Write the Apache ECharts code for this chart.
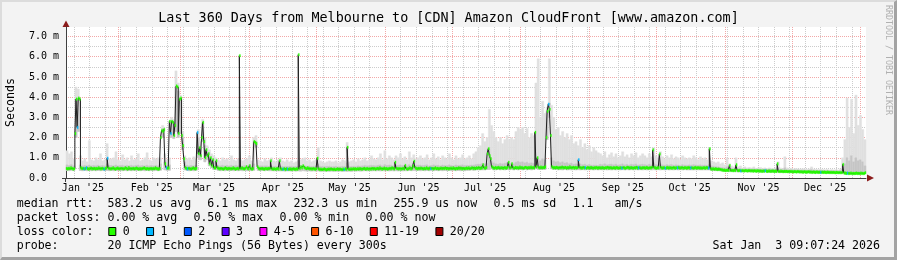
<!DOCTYPE html>
<html><head><meta charset="utf-8">
<script src="https://cdn.jsdelivr.net/npm/echarts@6/dist/echarts.min.js"></script>
<style>
html,body{margin:0;padding:0;background:#f3f3f3;}
#c{position:absolute;left:0;top:0;width:897px;height:260px;}
#frame{position:absolute;left:0;top:0;width:897px;height:260px;box-sizing:border-box;pointer-events:none;
 border-top:2px solid #dcdcdc;border-left:2px solid #dcdcdc;border-right:3px solid #a3a3a3;border-bottom:3px solid #a3a3a3;}
</style></head><body><div id="c"></div><div id="frame"></div>
<script>
// ---- time frame (days since 2025-01-01 00:00 local) ----
const START = 7.38;          // left edge: 2025-01-08 09:07
const END = 367.38;          // right edge: 2026-01-03 09:07
const YMAX = 7.47;           // ms
const STEP = 0.5;            // 12 h per median step

// ---- axis ticks / labels ----
const monthStarts = [31,59,90,120,151,181,212,243,273,304,334,365];
const monthLabelPos = [15,46,74,105,135,166,196,227,258,288,319,349];
const monthLabels = ["Jan '25","Feb '25","Mar '25","Apr '25","May '25","Jun '25","Jul '25","Aug '25","Sep '25","Oct '25","Nov '25","Dec '25"];
const weekStarts = [11,18,25,32,39,46,53,60,67,74,81,88,95,102,109,116,123,130,137,144,151,158,165,172,179,186,193,200,207,214,221,228,235,242,249,256,263,270,277,284,291,298,305,312,319,326,333,340,347,354,361];
const yTicks = [0,1,2,3,4,5,6,7];
const yTickLabels = ['0.0  ','1.0 m','2.0 m','3.0 m','4.0 m','5.0 m','6.0 m','7.0 m'];
const yMajorGrid = [1,2,3,4,5,6,7];
const yMinorGrid = [0.5,1.5,2.5,3.5,4.5,5.5,6.5];

// ---- median rtt (ms), one value per 12 h step ----
const median = [
.47,.45,.48,.46,.5,.47,.44,.46,2.2,3.9,2.5,3.95,3.9,.5,.46,.48,.45,.47,.5,.46,
.44,.47,.49,.45,.46,.48,.45,.47,.46,.5,.47,.45,.48,.46,.44,.47,.5,.98,.48,.46,
.45,.47,.5,.46,.44,.47,.49,.46,.45,.48,.47,.45,.46,.5,.47,.44,.52,.47,.45,.46,
.48,.45,.47,.49,.46,.44,.47,.45,.46,.48,.5,.46,.45,.47,.44,.46,.48,.45,.47,.46,
.5,.47,.45,.44,.47,2.0,2.35,2.3,2.4,.7,.5,.48,.5,2.8,2.2,2.8,2.75,2.1,2.6,4.55,
4.5,2.2,3.9,3.95,2.1,1.6,.95,.5,.47,.45,.48,.46,.44,.47,.5,.46,.45,.48,2.25,1.2,
1.5,1.1,2.0,2.75,1.8,1.0,1.4,1.1,1.2,.7,1.0,.6,.9,.5,.5,.85,.5,.47,.45,.48,
.46,.44,.47,.5,.46,.45,.48,.47,.45,.46,.5,.47,.44,.46,.48,.45,6.05,.47,.5,.46,
.45,.48,.55,.47,.45,.6,.46,.44,.47,1.8,1.75,1.7,.55,.47,.45,.46,.48,.45,.44,.47,
.46,.45,.48,.47,.85,.45,.44,.46,.43,.45,.47,.44,.85,.45,.43,.44,.46,.42,.45,.44,
.43,.45,.44,.42,.46,.44,.43,.45,.44,6.1,.47,.55,.5,.6,.52,.48,.46,.5,.47,.45,
.46,.44,.47,.45,.43,.46,.98,.45,.42,.44,.41,.43,.45,.42,.4,.43,.44,.42,.45,.43,
.42,.44,.41,.43,.45,.42,.44,.43,.41,.44,.42,.45,.43,1.52,.44,.42,.45,.43,.46,.44,
.45,.43,.46,.44,.47,.45,.43,.46,.48,.44,.45,.47,.43,.46,.44,.48,.45,.47,.44,.46,
.48,.45,.5,.47,.44,.46,.49,.45,.47,.44,.46,.48,.45,.5,.47,.45,.78,.48,.46,.45,
.47,.44,.46,.48,.45,.62,.46,.44,.47,.5,.45,.47,.6,.83,.5,.47,.45,.48,.46,.49,
.47,.45,.48,.46,.5,.47,.45,.49,.46,.48,.45,.47,.5,.46,.48,.45,.47,.49,.46,.48,
.47,.5,.46,.48,.45,.47,.49,.46,.5,.47,.45,.48,.46,.5,.47,.49,.45,.48,.46,.47,
.49,.47,.5,.46,.48,.51,.47,.49,.46,.5,.48,.52,.47,.49,.5,.65,.5,.48,.52,1.2,
1.45,1.1,.95,.55,.5,.48,.52,.49,.5,.53,.48,.51,.5,.47,.52,.5,.49,.53,.78,.5,
.52,.7,.5,.48,.53,.5,.51,.49,.54,.5,.52,.48,.5,.53,.51,.49,.52,.5,.54,.5,
.52,.5,2.26,.55,1.0,.52,.5,.54,.5,.53,.51,.55,2.0,3.3,3.65,3.4,2.1,.55,.5,.52,
.5,.53,.51,.49,.52,.5,.54,.5,.51,.53,.49,.52,.5,.55,.51,.5,.53,.49,.52,.5,
.51,.9,.52,.5,.49,.53,.5,.51,.48,.52,.5,.49,.53,.5,.48,.51,.5,.52,.49,.5,
.51,.49,.52,.5,.48,.51,.5,.53,.49,.5,.52,.48,.51,.5,.49,.52,.5,.48,.51,.5,
.49,.52,.5,.48,.51,.53,.5,.49,.52,.5,.48,.51,.5,.53,.49,.5,.52,.48,.5,.51,
.5,.49,.52,.5,.48,.51,.5,.53,1.39,.52,.5,.48,.51,.5,1.19,.52,.49,.5,.51,.48,
.5,.52,.49,.51,.5,.48,.52,.5,.49,.51,.5,.53,.49,.5,.52,.48,.5,.51,.49,.5,
.52,.49,.5,.51,.48,.5,.52,.49,.5,.51,.49,.5,.48,.51,.5,.49,.52,.5,.49,1.44,
.45,.44,.46,.43,.45,.44,.42,.44,.43,.41,.4,.38,.39,.37,.38,.39,.37,.62,.37,.38,
.36,.38,.37,.65,.37,.36,.38,.35,.37,.36,.35,.37,.36,.35,.37,.36,.35,.36,.34,.36,
.35,.34,.36,.35,.34,.35,.33,.35,.34,.36,.34,.33,.35,.34,.33,.35,.34,.33,.34,.33,
.7,.33,.32,.34,.33,.31,.33,.32,.33,.31,.32,.33,.31,.32,.3,.32,.31,.3,.32,.31,
.3,.31,.3,.29,.31,.3,.29,.3,.31,.29,.3,.28,.3,.29,.28,.3,.29,.28,.29,.28,
.29,.28,.29,.28,.27,.29,.28,.27,.28,.27,.28,.27,.26,.28,.27,.26,.27,.26,.27,.67,
.25,.24,.23,.24,.22,.23,.24,.22,.23,.22,.23,.24,.22,.23,.22,.24,.23,.22,.23,.26
];
// steps whose median band shows 1/20 loss (blue)
const lossOneSteps = [10,16,18,34,37,90,94,109,118,195,199,250,328,434,461,467,500,515,539,550,562,578,607,629,679,703];

// ---- smoke (ms), one value per day: lowest ping, dense band top, highest ping ----
const smokeLo = [
.37,.36,.38,.36,2.0,2.3,.37,.36,.37,.36,.37,.36,.37,.36,.37,.36,.37,.36,.37,.36,
.37,.36,.37,.36,.37,.36,.37,.36,.37,.36,.37,.36,.37,.36,.37,.36,.37,.36,.37,.36,
.37,.36,.38,2.0,.4,.38,.38,2.0,1.95,2.3,2.0,2.2,1.4,.4,.37,.36,.37,.36,.37,1.0,
.9,1.8,.8,.9,.6,.5,.42,.42,.37,.36,.37,.36,.37,.36,.37,.36,.37,.36,.37,.36,
.37,.36,.37,.36,.38,1.5,.37,.36,.37,.36,.37,.36,.36,.35,.36,.35,.35,.35,.34,.35,
.35,.34,.35,.34,.35,.34,.36,.35,.34,.35,.34,.35,.34,.35,.33,.34,.33,.34,.33,.34,
.33,.34,.33,.34,.33,.34,.33,.34,.33,.35,.34,.35,.34,.35,.36,.35,.36,.35,.36,.35,
.36,.35,.36,.35,.36,.35,.36,.35,.36,.35,.36,.35,.36,.36,.37,.36,.37,.36,.37,.36,
.37,.36,.37,.36,.37,.36,.37,.36,.37,.36,.37,.36,.37,.36,.37,.36,.37,.36,.37,.36,
.38,.38,.4,.38,.4,.4,.4,.4,.4,.42,.42,.45,.4,.4,.42,.4,.42,.4,.42,.4,
.42,.4,.42,.4,.42,.4,.42,.4,.42,.4,.42,.45,.42,.42,.42,.42,1.9,3.0,.45,.42,
.42,.4,.41,.4,.42,.4,.41,.4,.41,.4,.41,.4,.41,.4,.41,.4,.41,.4,.41,.4,
.41,.4,.41,.4,.41,.4,.41,.4,.41,.4,.41,.4,.41,.4,.41,.4,.41,.4,.41,.4,
.41,.4,.41,.4,.41,.4,.41,.4,.41,.4,.41,.4,.41,.4,.41,.4,.41,.4,.41,.4,
.4,.4,.4,.4,.4,.4,.4,.4,.4,.4,.38,.37,.36,.36,.35,.34,.33,.33,.32,.32,
.31,.31,.3,.31,.3,.31,.3,.3,.31,.3,.3,.29,.3,.29,.3,.29,.29,.28,.29,.28,
.28,.27,.28,.27,.27,.26,.27,.26,.27,.26,.26,.25,.26,.25,.26,.25,.25,.24,.25,.24,
.24,.24,.23,.24,.23,.23,.22,.23,.22,.22,.2,.2,.19,.2,.2,.19,.2,.19,.2,.22
];
const smokeMid = [
.65,.62,.66,.6,3.9,3.9,.65,.6,.62,.6,.64,.6,.62,.6,.63,.6,.62,.6,.7,.62,
.62,.6,.64,.6,.62,.63,.6,.62,.6,.63,.6,.62,.64,.6,.62,.6,.63,.6,.62,.6,
.62,.6,.7,2.45,.8,.62,.65,2.8,2.7,4.5,4.3,3.9,2.0,.8,.62,.6,.62,.6,.62,2.0,
1.5,2.7,1.6,1.3,1.1,.9,.8,.75,.62,.6,.63,.6,.62,.6,.63,.6,.62,.6,.62,.6,
.62,.6,.65,.6,.7,1.8,.6,.6,.6,.6,.6,.58,.6,.58,.58,.57,.6,.57,.56,.57,
.57,.58,.56,.57,.58,.6,.62,.6,.58,.6,.57,.58,.6,.7,.58,.57,.56,.57,.58,.56,
.56,.57,.55,.56,.58,.57,.75,.56,.57,.58,.56,.6,.58,.6,.62,.6,.61,.63,.62,.6,
.63,.65,.6,.66,.62,.64,.63,.6,.64,.62,.65,.62,.63,.6,.66,.62,.64,.62,.63,.64,
.62,.63,.65,.6,.62,.65,.62,.63,.6,.64,.62,.61,.65,.62,.6,.64,.62,.63,.65,.62,
.62,.62,.64,.64,.66,.68,.68,.72,.7,.72,1.45,.85,.75,.7,.68,.72,.7,.72,.75,.7,
.72,.7,.78,.82,.78,.8,.75,.78,.72,.75,.72,1.0,.95,.85,.95,.9,3.3,3.7,1.0,.85,
.8,.82,.76,.8,.74,.76,.7,.74,.68,.7,.68,.7,.66,.68,.64,.67,.63,.64,.63,.62,
.68,.66,.7,.65,.67,.69,.65,.68,.64,.66,.7,.65,.67,.64,.68,.66,.69,.64,.66,.68,
.66,.64,.68,.65,.75,.66,.64,.7,.65,.63,.66,.64,.67,.63,.65,.64,.62,.66,.64,.63,
.65,.64,.66,.64,.63,.65,.63,.64,.62,.66,.6,.58,.55,.55,.52,.52,.5,.55,.5,.48,
.45,.5,.45,.46,.44,.45,.44,.45,.44,.45,.43,.44,.44,.43,.43,.42,.43,.42,.42,.42,
.5,.42,.41,.5,.41,.4,.41,.4,.4,.4,.39,.4,.39,.38,.39,.42,.38,.38,.37,.38,
.37,.37,.37,.36,.37,.36,.36,.35,.37,.45,.7,1.0,.85,1.1,.8,1.0,.85,.9,.8,.6
];
const smokeHi = [
1.35,1.2,1.3,.95,4.5,4.4,1.1,.85,.95,.8,1.85,.9,.85,1.0,.9,1.2,.85,.9,1.7,.95,
.95,1.0,1.3,.9,.85,1.15,.9,1.0,.85,1.1,.9,.95,1.2,.85,.9,1.0,1.25,.9,.85,1.0,
.95,1.0,1.0,2.6,1.2,.9,1.0,3.0,2.9,5.3,4.7,4.1,2.3,1.1,.95,1.0,.9,1.05,.95,2.4,
1.8,2.9,2.0,1.6,1.4,1.2,1.1,1.0,.9,.85,1.0,.9,.95,.85,1.1,.9,.85,.95,.9,.85,
.9,.95,1.1,.85,2.0,2.1,.9,.85,.8,.95,.85,.9,1.0,.85,.8,.9,1.0,.85,.8,.9,
.8,.85,.75,.8,.85,.9,.95,1.0,.85,.9,.8,.85,.9,1.5,.85,.8,.75,.8,.85,.8,
.8,.85,.75,.8,.9,.85,1.76,.8,.85,.9,.8,.95,.85,.9,1.0,.85,.9,1.1,.95,.9,
1.0,1.2,.9,1.35,.95,1.1,1.0,.9,1.1,1.0,1.2,.95,1.05,.9,1.3,1.0,1.15,.95,1.0,1.1,
.95,1.0,1.15,.9,1.0,1.2,.95,1.05,.9,1.1,1.0,.95,1.2,1.0,.9,1.1,.95,1.0,1.15,.95,
1.0,1.1,.95,1.2,1.3,1.5,1.6,2.2,1.8,2.0,3.4,2.6,2.3,2.0,1.8,2.0,1.7,1.9,2.1,1.9,
2.0,1.9,2.3,2.5,2.4,2.5,2.2,2.45,2.0,2.2,2.1,4.7,5.9,3.0,3.8,3.2,3.5,5.9,3.6,3.0,
2.4,2.5,2.1,2.3,2.0,2.2,1.9,2.1,1.7,1.8,1.6,1.9,1.5,1.7,1.4,1.6,1.3,1.5,1.35,1.25,
1.2,1.1,1.3,1.0,1.15,1.25,1.05,1.2,1.0,1.1,1.3,1.05,1.15,1.0,1.2,1.1,1.25,1.0,1.1,1.2,
1.1,1.0,1.2,1.05,1.5,1.1,1.0,1.3,1.05,.95,1.1,1.0,1.15,.95,1.05,1.0,.9,1.1,1.0,.95,
1.0,.95,1.1,1.0,.9,1.05,.95,1.0,.9,1.5,.85,.8,.75,.8,.7,.75,.65,1.0,.7,.6,
.55,1.0,.55,.6,.5,.55,.5,.52,.5,.55,.48,.5,.52,.48,.5,.47,.5,.48,.47,.5,
.8,.5,.47,1.05,.5,.46,.48,.45,.47,.45,.44,.46,.45,.43,.45,.55,.44,.43,.42,.44,
.42,.41,.43,.4,.42,.4,.41,.39,.45,1.0,1.9,3.95,2.5,3.9,2.2,4.1,2.6,3.1,2.4,1.9
];

// ---- legend ----
const lossLabels = ['0','1','2','3','4-5','6-10','11-19','20/20'];
const lossColors = ['#26ff00','#00b8ff','#0059ff','#5e00ff','#ff00ff','#ff5500','#ff0000','#a10000'];
const statRtt = ['median rtt:  583.2 us avg','6.1 ms max','232.3 us min','255.9 us now','0.5 ms sd','1.1   am/s'];
const statLoss = ['packet loss: 0.00 % avg','0.50 % max','0.00 % min','0.00 % now'];
const probeLine = 'probe:       20 ICMP Echo Pings (56 Bytes) every 300s';
const stampText = 'Sat Jan  3 09:07:24 2026';
const titleText = 'Last 360 Days from Melbourne to [CDN] Amazon CloudFront [www.amazon.com]';

if (median.length !== 720 || smokeLo.length !== 360 || smokeMid.length !== 360 || smokeHi.length !== 360)
  console.error('length mismatch', median.length, smokeLo.length, smokeMid.length, smokeHi.length);

const FONT = 'DejaVu Sans Mono';
const CW = 6.97, LFS = 11.6, GAP = 16.4, X0 = 16.7;

const lossAt = median.map(() => 0);
lossOneSteps.forEach(j => { lossAt[j] = 1; });

const smokeData = smokeHi.map((h, k) => [START + k, START + k + 1, smokeLo[k], smokeMid[k], h]);
const bandData = median.map((v, j) => [START + j * STEP, START + (j + 1) * STEP, v, lossAt[j]]);
const lineData = median.map((v, j) => [START + j * STEP, v]);
lineData.push([START + median.length * STEP, median[median.length - 1]]);

function renderSmoke(params, api) {
  const a = api.coord([api.value(0), api.value(4)]);
  const b = api.coord([api.value(1), api.value(2)]);
  const m = api.coord([api.value(0), api.value(3)]);
  const w = b[0] - a[0];
  return { type: 'group', children: [
    { type: 'rect', shape: { x: a[0], y: a[1], width: w, height: b[1] - a[1] }, style: { fill: '#e0e0e0', stroke: '#e0e0e0', lineWidth: 0.4 } },
    { type: 'rect', shape: { x: a[0], y: m[1], width: w, height: b[1] - m[1] }, style: { fill: '#c6c6c6', stroke: '#c6c6c6', lineWidth: 0.4 } }
  ]};
}
function renderBand(params, api) {
  const a = api.coord([api.value(0), api.value(2)]);
  const b = api.coord([api.value(1), api.value(2)]);
  const c = lossColors[api.value(3)];
  return { type: 'rect', shape: { x: a[0], y: a[1] - 1.3, width: b[0] - a[0], height: 2.6 }, style: { fill: c, stroke: c, lineWidth: 0.3 } };
}

const txt = (text, x, y, extra) => Object.assign({ type: 'text', x: x, y: y, silent: true,
  style: Object.assign({ text: text, fontFamily: FONT, fontSize: LFS, fill: '#000', align: 'left', verticalAlign: 'middle' }, (extra && extra.style) || {}) },
  extra && extra.rotation !== undefined ? { rotation: extra.rotation } : {});

const graphics = [];
graphics.push(txt(titleText, 448.5, 19, { style: { fontSize: 13.4, align: 'center' } }));
graphics.push(txt('Seconds', 10.5, 102.5, { rotation: Math.PI / 2, style: { align: 'center' } }));
graphics.push(txt('RRDTOOL / TOBI OETIKER', 888, 60, { rotation: -Math.PI / 2, style: { align: 'center', fontSize: 8.3, fill: '#b0b0b0' } }));
function row(chunks, y) {
  let x = X0;
  chunks.forEach(s => { graphics.push(txt(s, x, y)); x += s.length * CW + GAP; });
}
row(statRtt, 204.3);
row(statLoss, 218.2);
graphics.push(txt('loss color:', X0, 232));
let lx = 108.3;
lossLabels.forEach((lab, i) => {
  graphics.push({ type: 'rect', silent: true, shape: { x: lx + 0.5, y: 227.5, width: 7, height: 8 }, style: { fill: lossColors[i], stroke: '#000', lineWidth: 1 } });
  graphics.push(txt(lab, lx + 14.4, 232));
  lx += 14.4 + lab.length * CW + GAP;
});
graphics.push(txt(probeLine, X0, 245.8));
graphics.push(txt(stampText, 880, 245.8, { style: { align: 'right' } }));
// axis arrows and stubs
graphics.push({ type: 'polygon', silent: true, shape: { points: [[867, 174.5], [874, 178], [867, 181.5]] }, style: { fill: '#8c1c1c' } });
graphics.push({ type: 'polygon', silent: true, shape: { points: [[62.5, 27], [66, 20.5], [69.5, 27]] }, style: { fill: '#8c1c1c' } });
graphics.push({ type: 'line', silent: true, shape: { x1: 62, y1: 178.5, x2: 66, y2: 178.5 }, style: { stroke: '#404040', lineWidth: 1 } });
graphics.push({ type: 'line', silent: true, shape: { x1: 65.5, y1: 178, x2: 65.5, y2: 182 }, style: { stroke: '#404040', lineWidth: 1 } });

const chart = echarts.init(document.getElementById('c'), null, { renderer: 'canvas' });
const axisFont = { fontFamily: FONT, fontSize: 10, color: '#000' };
chart.setOption({
  animation: false,
  backgroundColor: 'transparent',
  grid: { left: 66, top: 27, width: 800, height: 151, show: true, backgroundColor: '#ffffff', borderWidth: 0 },
  xAxis: [
    { type: 'value', min: START, max: END, position: 'bottom',
      axisLine: { show: true, lineStyle: { color: '#404040', width: 1 } },
      axisTick: { show: false, customValues: weekStarts },
      splitLine: { show: true, lineStyle: { color: '#cccccc', width: 1, type: [1, 1] } },
      axisLabel: Object.assign({ show: true, margin: 5, customValues: monthLabelPos,
        formatter: v => monthLabels[monthLabelPos.indexOf(v)] || '' }, axisFont) },
    { type: 'value', min: START, max: END, position: 'bottom',
      axisLine: { show: false }, axisLabel: { show: false },
      axisTick: { show: false, customValues: monthStarts },
      splitLine: { show: true, lineStyle: { color: '#f2a8a8', width: 1, type: [1, 1] } } }
  ],
  yAxis: [
    { type: 'value', min: 0, max: YMAX, position: 'left',
      axisLine: { show: true, lineStyle: { color: '#404040', width: 1 } },
      axisTick: { show: false, customValues: yMinorGrid },
      splitLine: { show: true, lineStyle: { color: '#cccccc', width: 1, type: [1, 1] } },
      axisLabel: Object.assign({ show: true, margin: 7, customValues: yTicks,
        formatter: v => { const i = yTicks.indexOf(v); return i < 0 ? '' : yTickLabels[i]; } }, axisFont) },
    { type: 'value', min: 0, max: YMAX, position: 'left',
      axisLine: { show: false }, axisLabel: { show: false },
      axisTick: { show: false, customValues: yMajorGrid },
      splitLine: { show: true, lineStyle: { color: '#f2a8a8', width: 1, type: [1, 1] } } }
  ],
  series: [
    { type: 'custom', name: 'smoke', xAxisIndex: 0, yAxisIndex: 0, renderItem: renderSmoke,
      encode: { x: [0, 1], y: [2, 3, 4] }, data: smokeData, silent: true, z: 2 },
    { type: 'line', name: 'median', xAxisIndex: 0, yAxisIndex: 0, step: 'end', data: lineData,
      showSymbol: false, symbol: 'none', silent: true, z: 3,
      lineStyle: { color: '#202020', width: 1 } },
    { type: 'custom', name: 'loss', xAxisIndex: 0, yAxisIndex: 0, renderItem: renderBand,
      encode: { x: [0, 1], y: 2 }, data: bandData, silent: true, z: 4 }
  ],
  graphic: graphics
});
</script>
</body></html>
